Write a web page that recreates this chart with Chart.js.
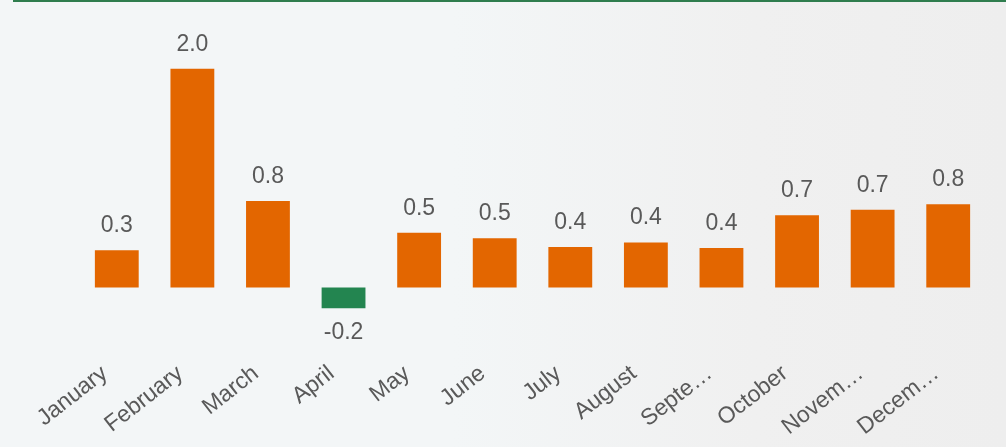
<!DOCTYPE html>
<html>
<head>
<meta charset="utf-8">
<script src="https://cdn.jsdelivr.net/npm/chart.js@4/dist/chart.umd.min.js"></script>
<style>
  html, body { margin: 0; padding: 0; }
  body {
    width: 1006px; height: 447px; overflow: hidden;
    background: linear-gradient(90deg, #f3f6f7 0%, #f3f6f7 45%, #f0f0f0 75%, #eeeeee 100%);
    position: relative;
  }
  .topline { position: absolute; left: 13px; right: 0; top: 0; height: 2px; background: #2f7d4e; }
  #chart { position: absolute; left: 0; top: 0; }
</style>
</head>
<body>
<div class="topline"></div>
<canvas id="chart" width="1006" height="447"></canvas>
<script>
// monthly change, %
const months = ['January', 'February', 'March', 'April', 'May', 'June',
                'July', 'August', 'September', 'October', 'November', 'December'];
const changes = [0.34, 2.0, 0.79, -0.19, 0.50, 0.45, 0.37, 0.41, 0.36, 0.66, 0.71, 0.76];

const ORANGE = '#e36600';
const GREEN = '#238550';
const TEXT = '#595959';
const FONT = '"Liberation Sans", Arial, sans-serif';
const TICK_SIZE = 23;

// shorten long month names with an ellipsis
const measureCtx = document.createElement('canvas').getContext('2d');
measureCtx.font = TICK_SIZE + 'px ' + FONT;
function fitLabel(text, maxW) {
    if (measureCtx.measureText(text).width <= maxW) return text;
    let s = text;
    while (s.length > 1 && measureCtx.measureText(s + '\u2026').width > maxW) s = s.slice(0, -1);
    return s + '\u2026';
}

// value labels above positive bars, below negative ones
const valueLabels = {
    id: 'valueLabels',
    afterDatasetsDraw(chart) {
        const ctx = chart.ctx;
        const meta = chart.getDatasetMeta(0);
        ctx.save();
        ctx.font = '23px ' + FONT;
        ctx.fillStyle = TEXT;
        ctx.textAlign = 'center';
        meta.data.forEach((bar, i) => {
            const v = changes[i];
            if (v >= 0) {
                ctx.textBaseline = 'bottom';
                ctx.fillText(v.toFixed(1), bar.x, bar.y - 13);
            } else {
                ctx.textBaseline = 'top';
                ctx.fillText(v.toFixed(1), bar.x, bar.y + 13);
            }
        });
        ctx.restore();
    }
};

new Chart(document.getElementById('chart'), {
    type: 'bar',
    data: {
        labels: months,
        datasets: [{
            data: changes,
            backgroundColor: changes.map(v => v < 0 ? GREEN : ORANGE),
            barPercentage: 0.58,
            categoryPercentage: 1.0
        }]
    },
    options: {
        responsive: false,
        animation: false,
        devicePixelRatio: 1,
        layout: { padding: { left: 79, right: 20, top: 47, bottom: 0 } },
        plugins: { legend: { display: false }, tooltip: { enabled: false } },
        scales: {
            y: { display: false, min: -0.6, max: 2.2 },
            x: {
                grid: { display: false, drawTicks: false },
                border: { display: false },
                afterFit(scale) { scale.height = 94; },
                ticks: {
                    autoSkip: false,
                    minRotation: 38,
                    maxRotation: 38,
                    padding: 7,
                    labelOffset: -12,
                    color: TEXT,
                    font: { family: FONT, size: TICK_SIZE },
                    callback(value) { return fitLabel(this.getLabelForValue(value), 98); }
                }
            }
        }
    },
    plugins: [valueLabels]
});
</script>
</body>
</html>
